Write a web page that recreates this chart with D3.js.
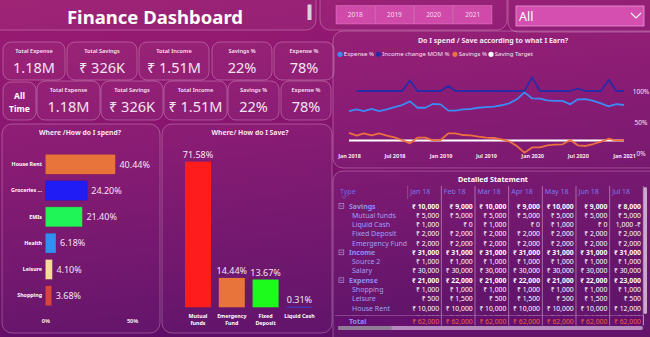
<!DOCTYPE html>
<html>
<head>
<meta charset="utf-8">
<script src="https://cdn.jsdelivr.net/npm/d3@7"></script>
<style>
  body { margin: 0; background: #7a1470; }
  svg { display: block; font-family: "Noto Sans", "DejaVu Sans", sans-serif; }
</style>
</head>
<body>
<svg id="dash" width="650" height="337"></svg>
<script>
// ---- data ----
var years = ["2018", "2019", "2020", "2021"];
var kpiLabels = ["Total Expense", "Total Savings", "Total Income", "Savings %", "Expense %"];
var kpiValues = ["1.18M", "₹ 326K", "₹ 1.51M", "22%", "78%"];

var spendCats = ["House Rent", "Groceries ...", "EMIs", "Health", "Leisure", "Shopping"];
var spendPct = [40.44, 24.20, 21.40, 6.18, 4.10, 3.68];
var spendColors = ["#e8743b", "#1f1cf5", "#1ff556", "#2f8ff2", "#f5dc9c", "#d8453d"];

var saveCats = ["Mutual funds", "Emergency Fund", "Fixed Deposit", "Liquid Cash"];
var saveLabels = [["Mutual", "funds"], ["Emergency", "Fund"], ["Fixed", "Deposit"], ["Liquid Cash"]];
var savePct = [71.58, 14.44, 13.67, 0.31];
var saveColors = ["#ff1c1c", "#e8743b", "#1cfb1c", "#3b3bb8"];

// monthly ratios Jan 2018 .. Jan 2021
var expensePct = [67.7, 70.4, 67.7, 71, 67.7, 70.4, 74, 77.4, 83.3, 73, 73, 79, 78.5, 68.3, 68.3, 70.4, 71, 73, 74,
                  74.7, 77, 80, 86.6, 97.8, 88, 87.6, 85, 84, 84, 78.5, 86.6, 87, 84, 80, 75.3, 79, 77.4];
var incomeMomPct = [null, 100, 100, 100, 100, 100, 100, 100, 117, 100, 100, 100, 100, 108, 100, 100, 100, 100, 100,
                  100, 100, 100, 100, 100, 122, 100, 100, 100, 100, 100, 104, 100, 100, 100, 118, 100, 100];
var savingsPct = [32.3, 28, 31.7, 28.5, 31.7, 28, 25.3, 21, 15.6, 24.7, 24.7, 20.4, 21, 31.7, 31.7, 29, 28.5, 26.3, 24.7,
                  24.2, 22, 18.8, 11.3, 0.5, 9, 9, 12.4, 13.4, 14, 21, 12.4, 11.3, 14.5, 18.3, 23, 20, 21];
var savingTarget = 20;
var months = d3.timeMonth.range(new Date(2018, 0, 1), new Date(2021, 1, 1));

// detailed statement
var stmtCols = ["Jan 18", "Feb 18", "Mar 18", "Apr 18", "May 18", "Jun 18", "Jul 18"];
var stmtTypes = ["Savings", "Mutual funds", "Liquid Cash", "Fixed Deposit", "Emergency Fund",
                 "Income", "Source 2", "Salary", "Expense", "Shopping", "Leisure", "House Rent", "Health"];
var stmtParents = ["Savings", "Income", "Expense"];
var stmtSavings = [10000, 9000, 10000, 9000, 10000, 9000, 8000];
var stmtMutual = [5000, 5000, 5000, 5000, 5000, 5000, 5000];
var stmtLiquid = [1000, 0, 1000, 0, 1000, 0, -1000];
var stmtFixed = [2000, 2000, 2000, 2000, 2000, 2000, 2000];
var stmtEmergency = [2000, 2000, 2000, 2000, 2000, 2000, 2000];
var stmtIncome = [31000, 31000, 31000, 31000, 31000, 31000, 31000];
var stmtSource2 = [1000, 1000, 1000, 1000, 1000, 1000, 1000];
var stmtSalary = [30000, 30000, 30000, 30000, 30000, 30000, 30000];
var stmtExpense = [21000, 22000, 21000, 22000, 21000, 22000, 23000];
var stmtShopping = [1000, 1000, 1000, 1000, 1000, 1000, 1000];
var stmtLeisure = [500, 1500, 500, 1500, 500, 1500, 500];
var stmtRent = [10000, 10000, 10000, 10000, 10000, 10000, 12000];
var stmtHealth = [4000, 4000, 4000, 4000, 4000, 4000, 4000];
var stmtTotal = [62000, 62000, 62000, 62000, 62000, 62000, 62000];

var svg = d3.select("#dash");
var defs = svg.append("defs");

var bg = defs.append("linearGradient").attr("id", "bg").attr("x1", 0).attr("y1", 0).attr("x2", 0.25).attr("y2", 1);
bg.append("stop").attr("offset", "0%").attr("stop-color", "#9c1c72");
bg.append("stop").attr("offset", "45%").attr("stop-color", "#86146f");
bg.append("stop").attr("offset", "100%").attr("stop-color", "#5e0d66");
svg.append("rect").attr("width", 650).attr("height", 337).attr("fill", "url(#bg)");

var txt = "#f6e4f1";

function panel(x, y, w, h, r) {
  return svg.append("rect").attr("x", x).attr("y", y).attr("width", w).attr("height", h)
    .attr("rx", r).attr("fill", "rgba(255,255,255,0.035)")
    .attr("stroke", "rgba(255,215,240,0.3)").attr("stroke-width", 1);
}

// ---- header ----
panel(-10, -10, 326, 40, 10);
svg.append("text").attr("x", 155).attr("y", 24).attr("text-anchor", "middle")
  .attr("font-size", 18.5).attr("font-weight", 700).attr("fill", "#fff").text("Finance Dashboard");
svg.append("rect").attr("x", 307.5).attr("y", 4.5).attr("width", 4).attr("height", 15.5).attr("fill", "#d9d2d8");

panel(320, -10, 187, 40, 10);
var yb = d3.scaleBand().domain(years).range([336, 492]).paddingInner(0.02);
svg.selectAll(".yr").data(years).enter().append("rect")
  .attr("x", d => yb(d)).attr("y", 5.5).attr("width", yb.bandwidth()).attr("height", 18.5)
  .attr("fill", "#d04aa9").attr("stroke", "rgba(255,190,235,0.45)").attr("stroke-width", 0.6);
svg.selectAll(".yrt").data(years).enter().append("text")
  .attr("x", d => yb(d) + yb.bandwidth() / 2).attr("y", 17).attr("text-anchor", "middle")
  .attr("font-size", 6.5).attr("fill", "#f7dcef").text(d => d);

panel(508, -10, 152, 42, 10);
svg.append("rect").attr("x", 516).attr("y", 6).attr("width", 128).attr("height", 20)
  .attr("fill", "#d44fb0").attr("stroke", "#ec9ad6").attr("stroke-width", 0.8);
svg.append("text").attr("x", 519).attr("y", 21).attr("font-size", 12.5).attr("fill", "#fff").text("All");
svg.append("path").attr("d", "M631,13 L636,18 L641,13").attr("fill", "none")
  .attr("stroke", "#fff").attr("stroke-width", 1.1);

// ---- KPI cards ----
function kpiRow(edges, top, bottom) {
  edges.forEach(function (e, i) {
    svg.append("rect").attr("x", e[0]).attr("y", top).attr("width", e[1] - e[0]).attr("height", bottom - top)
      .attr("rx", 8).attr("fill", "rgba(255,255,255,0.04)")
      .attr("stroke", "rgba(255,215,240,0.3)").attr("stroke-width", 1);
    var cx = (e[0] + e[1]) / 2;
    svg.append("text").attr("x", cx).attr("y", top + 10.5).attr("text-anchor", "middle")
      .attr("font-size", 5.6).attr("font-weight", 600).attr("fill", txt).text(kpiLabels[i]);
    svg.append("text").attr("x", cx).attr("y", top + 31).attr("text-anchor", "middle")
      .attr("font-size", 14.5).attr("fill", txt).text(kpiValues[i]);
  });
}
kpiRow([[3, 65], [67, 137], [139, 209], [212, 272], [274, 334]], 42, 80);
svg.append("rect").attr("x", 3).attr("y", 82).attr("width", 33).attr("height", 38).attr("rx", 8)
  .attr("fill", "rgba(255,255,255,0.04)").attr("stroke", "rgba(255,215,240,0.3)");
svg.append("text").attr("x", 19.5).attr("y", 99).attr("text-anchor", "middle").attr("font-size", 8.5)
  .attr("font-weight", 700).attr("fill", "#fff").text("All");
svg.append("text").attr("x", 19.5).attr("y", 111.5).attr("text-anchor", "middle").attr("font-size", 8.5)
  .attr("font-weight", 700).attr("fill", "#fff").text("Time");
kpiRow([[37, 100], [101, 163], [164, 227], [228, 279], [281, 331]], 81, 120);

// ---- line chart ----
panel(333, 31, 330, 137, 10);
svg.append("text").attr("x", 493).attr("y", 43).attr("text-anchor", "middle").attr("font-size", 7)
  .attr("font-weight", 700).attr("fill", txt).text("Do I spend / Save according to what I Earn?");

var lineSeries = [
  {name: "Expense %", color: "#3c8bf4", values: expensePct},
  {name: "Income change MOM %", color: "#2a2aa6", values: incomeMomPct},
  {name: "Savings %", color: "#ec7140", values: savingsPct},
  {name: "Saving Target", color: "#ffffff", values: months.map(() => savingTarget)}
];
var legendX = [340, 378.5, 455, 491];
lineSeries.forEach(function (s, i) {
  svg.append("circle").attr("cx", legendX[i]).attr("cy", 54.3).attr("r", 2.6).attr("fill", s.color);
  svg.append("text").attr("x", legendX[i] + 3.8).attr("y", 56.4).attr("font-size", 6).attr("fill", txt).text(s.name);
});

var x = d3.scaleTime().domain([months[0], months[36]]).range([349, 624]);
var y = d3.scaleLinear().domain([0, 100]).range([153, 91]);

var line = d3.line().defined(d => d.v != null).x(d => x(d.t)).y(d => y(d.v));
[3, 1, 0, 2].forEach(function (k) {
  var s = lineSeries[k];
  svg.append("path").datum(months.map((t, i) => ({t: t, v: s.values[i]})))
    .attr("d", line).attr("fill", "none").attr("stroke", s.color)
    .attr("stroke-width", k === 3 ? 2 : 1.8).attr("stroke-linejoin", "round");
});

var xAxis = svg.append("g").attr("transform", "translate(0,154)")
  .call(d3.axisBottom(x).tickValues(d3.timeMonth.every(6).range(months[0], new Date(2021, 0, 2)))
    .tickFormat(d3.timeFormat("%b %Y")).tickSize(0).tickPadding(0));
xAxis.select(".domain").remove();
xAxis.selectAll("text").attr("font-size", 5.5).attr("font-weight", 700).attr("fill", txt)
  .attr("font-family", "Noto Sans, sans-serif");

var yAxis = svg.append("g").attr("transform", "translate(641,0)")
  .call(d3.axisRight(y).tickValues([0, 50, 100]).tickFormat(d => d + "%").tickSize(0).tickPadding(0));
yAxis.select(".domain").remove();
yAxis.selectAll("text").attr("text-anchor", "middle").attr("font-size", 6.5).attr("fill", txt)
  .attr("font-family", "Noto Sans, sans-serif");

// ---- where do I spend ----
panel(2, 124, 158, 209, 10);
svg.append("text").attr("x", 80).attr("y", 135).attr("text-anchor", "middle").attr("font-size", 6.8)
  .attr("font-weight", 700).attr("fill", txt).text("Where /How do I spend?");

var sy = d3.scaleBand().domain(spendCats).range([148, 312]).padding(0.24);
var sx = d3.scaleLinear().domain([0, 50]).range([45.3, 132]);
svg.selectAll(".sbar").data(spendPct).enter().append("rect")
  .attr("x", sx(0)).attr("y", (d, i) => sy(spendCats[i]))
  .attr("width", d => sx(d) - sx(0)).attr("height", sy.bandwidth())
  .attr("fill", (d, i) => spendColors[i]).attr("stroke", "rgba(120,20,80,0.5)").attr("stroke-width", 0.6);
svg.selectAll(".sval").data(spendPct).enter().append("text")
  .attr("x", d => sx(d) + 4).attr("y", (d, i) => sy(spendCats[i]) + sy.bandwidth() / 2 + 3.3)
  .attr("font-size", 9).attr("fill", txt).text(d => d.toFixed(2) + "%");
var syAxis = svg.append("g").attr("transform", "translate(42,0)")
  .call(d3.axisLeft(sy).tickSize(0).tickPadding(0));
syAxis.select(".domain").remove();
syAxis.selectAll("text").attr("font-size", 5.3).attr("font-weight", 700).attr("fill", "#fff")
  .attr("font-family", "Noto Sans, sans-serif");
var sxAxis = svg.append("g").attr("transform", "translate(0,319)")
  .call(d3.axisBottom(sx).tickValues([0, 50]).tickFormat(d => d + "%").tickSize(0).tickPadding(0));
sxAxis.select(".domain").remove();
sxAxis.selectAll("text").attr("font-size", 5.5).attr("font-weight", 700).attr("fill", txt)
  .attr("font-family", "Noto Sans, sans-serif");

// ---- where do I save ----
panel(162, 124, 170, 209, 10);
svg.append("text").attr("x", 250).attr("y", 135).attr("text-anchor", "middle").attr("font-size", 6.8)
  .attr("font-weight", 700).attr("fill", txt).text("Where/ How do I Save?");

var vx = d3.scaleBand().domain(saveCats).range([178.2, 319.2]).paddingInner(0.23).paddingOuter(0.2);
var vy = d3.scaleLinear().domain([0, 100]).range([307.3, 103.9]);
svg.selectAll(".vbar").data(savePct).enter().append("rect")
  .attr("x", (d, i) => vx(saveCats[i])).attr("y", d => vy(d))
  .attr("width", vx.bandwidth()).attr("height", d => Math.max(vy(0) - vy(d), 1.2))
  .attr("fill", (d, i) => saveColors[i]);
svg.selectAll(".vval").data(savePct).enter().append("text")
  .attr("x", (d, i) => vx(saveCats[i]) + vx.bandwidth() / 2).attr("y", d => vy(d) - 3.5)
  .attr("text-anchor", "middle").attr("font-size", 9).attr("fill", txt).text(d => d.toFixed(2) + "%");
saveLabels.forEach(function (lines, i) {
  var t = svg.append("text").attr("x", vx(saveCats[i]) + vx.bandwidth() / 2).attr("y", 317.5)
    .attr("text-anchor", "middle").attr("font-size", 5.3).attr("font-weight", 700).attr("fill", "#fff");
  lines.forEach(function (l, j) {
    t.append("tspan").attr("x", vx(saveCats[i]) + vx.bandwidth() / 2).attr("dy", j ? 7 : 0).text(l);
  });
});

// ---- detailed statement ----
panel(333, 171, 330, 175, 10);
svg.append("text").attr("x", 493).attr("y", 182).attr("text-anchor", "middle").attr("font-size", 7.2)
  .attr("font-weight", 700).attr("fill", "#fff").text("Detailed Statement");

var cx = d3.scaleBand().domain(stmtCols).range([407.7, 643.3]);
var ry = d3.scaleLinear().domain([0, 1]).range([206, 215.28]);
var stmtRows = [stmtSavings, stmtMutual, stmtLiquid, stmtFixed, stmtEmergency, stmtIncome, stmtSource2,
                stmtSalary, stmtExpense, stmtShopping, stmtLeisure, stmtRent, stmtHealth];
var fmt = d3.format(",");
function money(v) { return v < 0 ? fmt(-v) + " -₹" : "₹ " + fmt(v); }

svg.append("text").attr("x", 340).attr("y", 194).attr("font-size", 7).attr("fill", "#6a6ae8").text("Type");
svg.append("path").attr("d", "M341.5,196 L344,198.5 L346.5,196").attr("fill", "none").attr("stroke", "#6a6ae8").attr("stroke-width", 0.8);
svg.selectAll(".hdr").data(stmtCols).enter().append("text")
  .attr("x", d => cx(d) + 2.5).attr("y", 194).attr("font-size", 7).attr("fill", "#7a78ee").text(d => d);

svg.selectAll(".vline").data(stmtCols).enter().append("line")
  .attr("x1", d => cx(d) + cx.bandwidth()).attr("x2", d => cx(d) + cx.bandwidth())
  .attr("y1", 186).attr("y2", 325).attr("stroke", "rgba(255,225,245,0.6)").attr("stroke-width", 0.7);
svg.append("line").attr("x1", cx(stmtCols[0])).attr("x2", cx(stmtCols[0])).attr("y1", 186).attr("y2", 199)
  .attr("stroke", "rgba(255,225,245,0.35)").attr("stroke-width", 0.7);

// last row is cut off by the sticky total row
defs.append("clipPath").attr("id", "rowsClip").append("rect").attr("x", 333).attr("y", 199).attr("width", 320).attr("height", 116.5);
var body = svg.append("g").attr("clip-path", "url(#rowsClip)");
stmtTypes.forEach(function (t, i) {
  var parent = stmtParents.indexOf(t) >= 0;
  var cy = ry(i);
  if (parent) {
    body.append("rect").attr("x", 339).attr("y", cy - 2.4).attr("width", 4.8).attr("height", 4.8)
      .attr("fill", "none").attr("stroke", "#b7a8e6").attr("stroke-width", 0.6);
    body.append("line").attr("x1", 340.2).attr("x2", 342.6).attr("y1", cy).attr("y2", cy)
      .attr("stroke", "#b7a8e6").attr("stroke-width", 0.6);
  }
  body.append("text").attr("x", parent ? 349 : 352).attr("y", cy + 2.5).attr("font-size", 7)
    .attr("font-weight", parent ? 700 : 400).attr("fill", parent ? "#8f8df7" : "#a19ff5").text(t);
  stmtRows[i].forEach(function (v, j) {
    body.append("text").attr("x", cx(stmtCols[j]) + cx.bandwidth() - 2.3).attr("y", cy + 2.5)
      .attr("text-anchor", "end").attr("font-size", 6.8).attr("font-weight", parent ? 700 : 400)
      .attr("fill", "#fff").text(money(v));
  });
});

// total row
svg.append("rect").attr("x", 335).attr("y", 315.5).attr("width", 308).attr("height", 10)
  .attr("fill", "#65106e");
svg.append("line").attr("x1", 335).attr("x2", 643).attr("y1", 315.5).attr("y2", 315.5)
  .attr("stroke", "rgba(255,225,245,0.4)").attr("stroke-width", 0.6);
svg.append("text").attr("x", 349).attr("y", 323.5).attr("font-size", 7).attr("font-weight", 700)
  .attr("fill", "#8f8df7").text("Total");
svg.selectAll(".tot").data(stmtTotal).enter().append("text")
  .attr("x", (d, j) => cx(stmtCols[j]) + cx.bandwidth() - 2.3).attr("y", 323.5).attr("text-anchor", "end")
  .attr("font-size", 6.8).attr("fill", "#f0603a").text(d => money(d));
svg.selectAll(".vline2").data(stmtCols).enter().append("line")
  .attr("x1", d => cx(d) + cx.bandwidth()).attr("x2", d => cx(d) + cx.bandwidth())
  .attr("y1", 315.5).attr("y2", 325.5).attr("stroke", "rgba(255,225,245,0.6)").attr("stroke-width", 0.7);

// scrollbars
svg.append("rect").attr("x", 338).attr("y", 326).attr("width", 305).attr("height", 4).attr("rx", 2)
  .attr("fill", "#c9a6cf").attr("opacity", 0.8);
svg.append("rect").attr("x", 338).attr("y", 326).attr("width", 54).attr("height", 4).attr("rx", 2)
  .attr("fill", "#8f7d98");
svg.append("rect").attr("x", 643.5).attr("y", 187).attr("width", 3.5).attr("height", 127).attr("rx", 1.7)
  .attr("fill", "#d9c4e0").attr("opacity", 0.85);
</script>
</body>
</html>
